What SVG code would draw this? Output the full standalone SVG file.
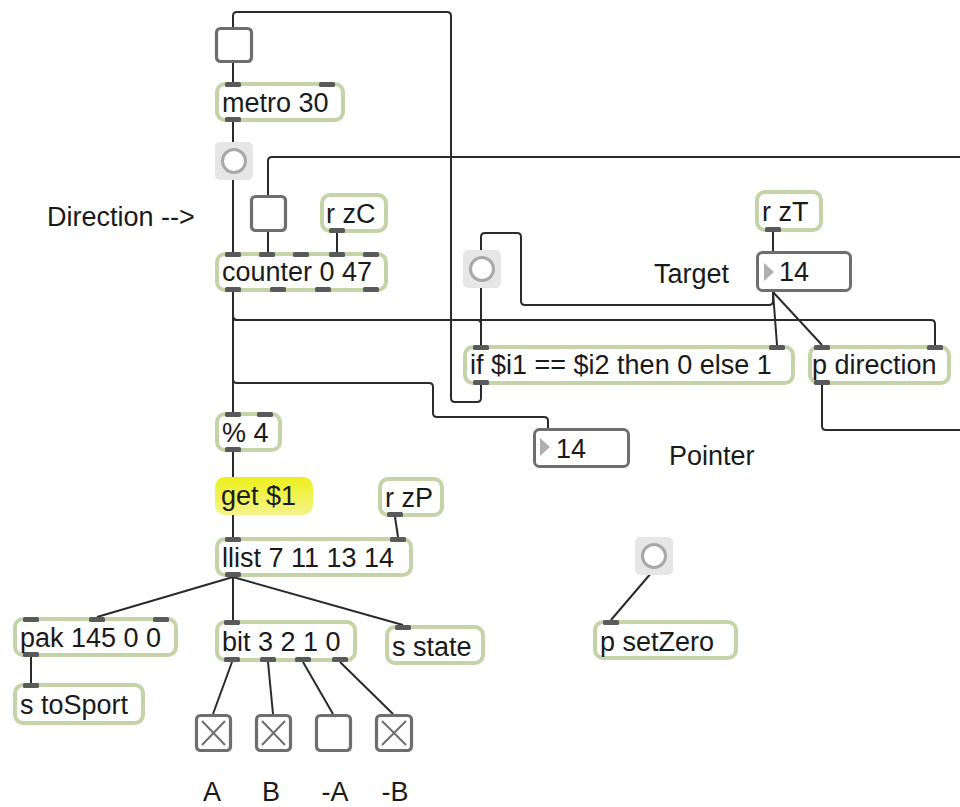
<svg xmlns="http://www.w3.org/2000/svg" width="960" height="807" viewBox="0 0 960 807">
<defs>
<style>
.obj{fill:#fff;stroke:#c5d4a8;stroke-width:4}
.port{fill:#5a5a5a}
.tog{fill:#fff;stroke:#6e6e6e;stroke-width:3.2}
.num{fill:#fff;stroke:#6e6e6e;stroke-width:3}
.bbg{fill:#e6e6e6}
.bc{fill:#fff;stroke:#a8a8a8;stroke-width:3}
.x{stroke:#6e6e6e;stroke-width:2}
.tri{fill:#b0b0b0}
.cord{fill:none;stroke:#2a2a2a;stroke-width:2;stroke-linejoin:round}
.t{font-family:"Liberation Sans",Arial,sans-serif;font-size:27px;fill:#1a1a1a}
</style>
<linearGradient id="msg" x1="0" y1="0" x2="0" y2="1">
<stop offset="0" stop-color="#eef01c"/>
<stop offset="1" stop-color="#f3f48a"/>
</linearGradient>
</defs>
<rect width="960" height="807" fill="#fff"/>

<g id="connectors">
<path class="cord" d="M481,385 V398 Q481,402 477,402 H455 Q451,402 451,398 V16 Q451,12 447,12 H237 Q233,12 233,16 V27"/>
<path class="cord" d="M233,63 V82"/>
<path class="cord" d="M233,122 V142"/>
<path class="cord" d="M233,180 V252"/>
<path class="cord" d="M960,157 H272 Q268,157 268,161 V195"/>
<path class="cord" d="M268,232 V252"/>
<path class="cord" d="M337,233 V252"/>
<path class="cord" d="M233,292 V412"/>
<path class="cord" d="M233,292 V316 Q233,320 237,320 H477 Q481,320 481,324 V345"/>
<path class="cord" d="M233,292 V316 Q233,320 237,320 H931 Q935,320 935,324 V345"/>
<path class="cord" d="M481,288 V345"/>
<path class="cord" d="M233,292 V379 Q233,383 237,383 H429 Q433,383 433,387 V413 Q433,417 437,417 H544 Q548,417 548,421 V428"/>
<path class="cord" d="M773,292 L777,345"/>
<path class="cord" d="M773,292 L822,345"/>
<path class="cord" d="M773,292 V301 Q773,305 769,305 H525 Q521,305 521,301 V237 Q521,233 517,233 H485 Q481,233 481,237 V250"/>
<path class="cord" d="M773,232 V251"/>
<path class="cord" d="M822,385 V426 Q822,430 826,430 H960"/>
<path class="cord" d="M233,452 V477"/>
<path class="cord" d="M233,515 V537"/>
<path class="cord" d="M395,517 L398,537"/>
<path class="cord" d="M233,577 L97,617"/>
<path class="cord" d="M233,577 V620"/>
<path class="cord" d="M233,577 L403,625"/>
<path class="cord" d="M31,657 V683"/>
<path class="cord" d="M232,662 L213,714"/>
<path class="cord" d="M268,662 L273,714"/>
<path class="cord" d="M303,662 L333,714"/>
<path class="cord" d="M340,662 L393,714"/>
<path class="cord" d="M652,572 L611,620"/>
</g>

<g id="toggle-top"><rect class="tog" x="216.5" y="28.5" width="35" height="33" rx="4"/></g>

<g id="metro"><rect class="obj" x="217" y="84" width="126" height="36" rx="8"/>
<rect class="port" x="225" y="82" width="16" height="5" rx="1.5"/><rect class="port" x="319" y="82" width="16" height="5" rx="1.5"/>
<rect class="port" x="225" y="117" width="16" height="5" rx="1.5"/>
<text class="t" x="222" y="112">metro 30</text></g>

<g id="bang1"><rect class="bbg" x="215" y="142" width="38" height="38" rx="5"/><circle class="bc" cx="234" cy="161" r="11.5"/></g>

<g id="toggle-dir"><rect class="tog" x="251.5" y="196.5" width="34" height="34" rx="4"/></g>

<g id="rzC"><rect class="obj" x="322" y="195" width="64" height="36" rx="8"/>
<rect class="port" x="329" y="228" width="16" height="5" rx="1.5"/>
<text class="t" x="326" y="223">r zC</text></g>

<g id="label-direction"><text class="t" x="47" y="226">Direction --&gt;</text></g>

<g id="counter"><rect class="obj" x="217" y="254" width="169" height="36" rx="8"/>
<rect class="port" x="225" y="252" width="16" height="5" rx="1.5"/><rect class="port" x="259" y="252" width="16" height="5" rx="1.5"/><rect class="port" x="293" y="252" width="16" height="5" rx="1.5"/><rect class="port" x="329" y="252" width="16" height="5" rx="1.5"/><rect class="port" x="363" y="252" width="16" height="5" rx="1.5"/>
<rect class="port" x="225" y="287" width="16" height="5" rx="1.5"/><rect class="port" x="270" y="287" width="16" height="5" rx="1.5"/><rect class="port" x="315" y="287" width="16" height="5" rx="1.5"/><rect class="port" x="363" y="287" width="16" height="5" rx="1.5"/>
<text class="t" x="222" y="281">counter 0 47</text></g>

<g id="bang2"><rect class="bbg" x="463" y="250" width="38" height="38" rx="5"/><circle class="bc" cx="482" cy="269" r="11.5"/></g>

<g id="rzT"><rect class="obj" x="757" y="192" width="64" height="38" rx="8"/>
<rect class="port" x="765" y="227" width="16" height="5" rx="1.5"/>
<text class="t" x="762" y="221">r zT</text></g>

<g id="label-target"><text class="t" x="654" y="283">Target</text></g>

<g id="num-target"><rect class="num" x="757.5" y="252.5" width="93" height="38" rx="5"/>
<polygon class="tri" points="764,263 774,272 764,281"/>
<text class="t" x="779" y="281">14</text></g>

<g id="if"><rect class="obj" x="465" y="347" width="328" height="36" rx="8"/>
<rect class="port" x="473" y="345" width="16" height="5" rx="1.5"/><rect class="port" x="769" y="345" width="16" height="5" rx="1.5"/>
<rect class="port" x="473" y="380" width="16" height="5" rx="1.5"/>
<text class="t" x="470" y="374">if $i1 == $i2 then 0 else 1</text></g>

<g id="pdirection"><rect class="obj" x="810" y="347" width="139" height="36" rx="8"/>
<rect class="port" x="814" y="345" width="16" height="5" rx="1.5"/><rect class="port" x="927" y="345" width="16" height="5" rx="1.5"/>
<rect class="port" x="814" y="380" width="16" height="5" rx="1.5"/>
<text class="t" x="812" y="374">p direction</text></g>

<g id="mod4"><rect class="obj" x="217" y="414" width="63" height="36" rx="8"/>
<rect class="port" x="225" y="412" width="16" height="5" rx="1.5"/><rect class="port" x="257" y="412" width="16" height="5" rx="1.5"/>
<rect class="port" x="225" y="447" width="16" height="5" rx="1.5"/>
<text class="t" x="222" y="442">% 4</text></g>

<g id="num-pointer"><rect class="num" x="534.5" y="429.5" width="94" height="37" rx="5"/>
<polygon class="tri" points="540,438 550,447 540,456"/>
<text class="t" x="556" y="458">14</text></g>

<g id="label-pointer"><text class="t" x="669" y="465">Pointer</text></g>

<g id="get"><rect x="215" y="477" width="98" height="38" rx="10" fill="url(#msg)"/>
<text class="t" x="221" y="505">get $1</text></g>

<g id="rzP"><rect class="obj" x="380" y="479" width="62" height="36" rx="8"/>
<rect class="port" x="387" y="512" width="16" height="5" rx="1.5"/>
<text class="t" x="385" y="507">r zP</text></g>

<g id="llist"><rect class="obj" x="217" y="539" width="194" height="36" rx="8"/>
<rect class="port" x="225" y="537" width="16" height="5" rx="1.5"/><rect class="port" x="390" y="537" width="16" height="5" rx="1.5"/>
<rect class="port" x="225" y="572" width="16" height="5" rx="1.5"/>
<text class="t" x="222" y="567">llist 7 11 13 14</text></g>

<g id="bang3"><rect class="bbg" x="635" y="537" width="38" height="38" rx="5"/><circle class="bc" cx="654" cy="556" r="11.5"/></g>

<g id="pak"><rect class="obj" x="15" y="619" width="161" height="36" rx="8"/>
<rect class="port" x="23" y="617" width="16" height="5" rx="1.5"/><rect class="port" x="89" y="617" width="16" height="5" rx="1.5"/><rect class="port" x="153" y="617" width="16" height="5" rx="1.5"/>
<rect class="port" x="23" y="652" width="16" height="5" rx="1.5"/>
<text class="t" x="20" y="647">pak 145 0 0</text></g>

<g id="bit"><rect class="obj" x="217" y="622" width="138" height="38" rx="8"/>
<rect class="port" x="224" y="620" width="16" height="5" rx="1.5"/>
<rect class="port" x="224" y="657" width="16" height="5" rx="1.5"/><rect class="port" x="260" y="657" width="16" height="5" rx="1.5"/><rect class="port" x="295" y="657" width="16" height="5" rx="1.5"/><rect class="port" x="332" y="657" width="16" height="5" rx="1.5"/>
<text class="t" x="222" y="651">bit 3 2 1 0</text></g>

<g id="sstate"><rect class="obj" x="387" y="627" width="96" height="36" rx="8"/>
<rect class="port" x="395" y="625" width="16" height="5" rx="1.5"/>
<text class="t" x="392" y="656">s state</text></g>

<g id="psetzero"><rect class="obj" x="595" y="622" width="141" height="36" rx="8"/>
<rect class="port" x="603" y="620" width="16" height="5" rx="1.5"/>
<text class="t" x="600" y="651">p setZero</text></g>

<g id="stosport"><rect class="obj" x="15" y="685" width="128" height="38" rx="8"/>
<rect class="port" x="23" y="683" width="16" height="5" rx="1.5"/>
<text class="t" x="20" y="714">s toSport</text></g>

<g id="toggle-A"><rect class="tog" x="196.5" y="715.5" width="34" height="35" rx="4"/><path class="x" d="M202,721 L225,745 M225,721 L202,745"/></g>
<g id="toggle-B"><rect class="tog" x="256.5" y="715.5" width="34" height="35" rx="4"/><path class="x" d="M262,721 L285,745 M285,721 L262,745"/></g>
<g id="toggle-nA"><rect class="tog" x="316.5" y="715.5" width="34" height="35" rx="4"/></g>
<g id="toggle-nB"><rect class="tog" x="376.5" y="715.5" width="35" height="35" rx="4"/><path class="x" d="M382,721 L406,745 M406,721 L382,745"/></g>

<g id="labels-bits" text-anchor="middle">
<text class="t" x="212" y="801">A</text>
<text class="t" x="271" y="801">B</text>
<text class="t" x="335" y="801">-A</text>
<text class="t" x="395" y="801">-B</text>
</g>
</svg>
